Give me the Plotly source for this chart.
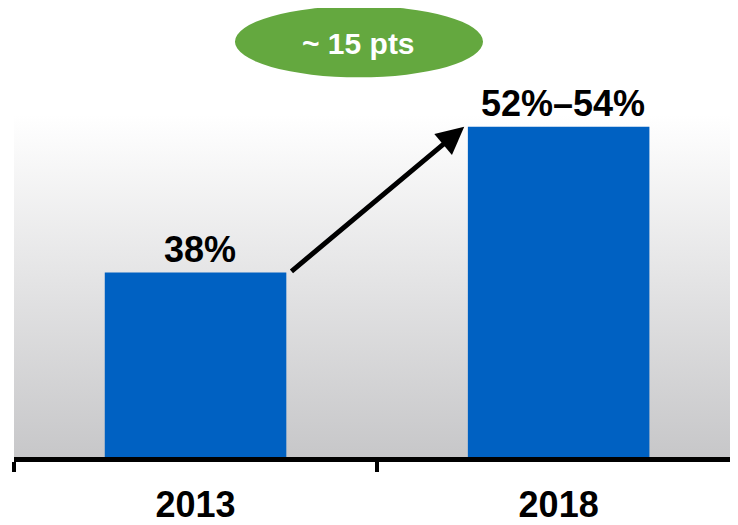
import plotly.graph_objects as go

categories = ["2013", "2018"]
values = [38, 53]
value_labels = ["38%", "52%–54%"]
change_label = "~ 15 pts"

FONT = "Liberation Sans, Arial, sans-serif"
BLUE = "#0061C2"
GREEN = "#64A83F"

fig = go.Figure()

# background gradient (base axes, unit square)
fig.add_trace(go.Scatter(
    x=[0, 1, 1, 0, 0], y=[0, 0, 1, 1, 0], fill="toself", mode="none",
    fillgradient=dict(type="vertical", colorscale=[[0, "#c7c7c9"], [1, "#ffffff"]]),
    hoverinfo="skip", showlegend=False, xaxis="x", yaxis="y"))

fig.add_trace(go.Bar(
    x=categories, y=values, marker_color=BLUE, marker_line_width=0,
    width=0.5, showlegend=False, xaxis="x2", yaxis="y2", hoverinfo="skip"))

annotations = []
for i, (v, t) in enumerate(zip(values, value_labels)):
    annotations.append(dict(x=i, y=v, xref="x2", yref="y2", text=t, showarrow=False,
                            yanchor="bottom", yshift=1, xshift=4,
                            font=dict(family=FONT, size=36, color="black", weight="bold")))

# arrow from first bar top to second bar top
annotations.append(dict(x=0.74, y=values[1], xref="x2", yref="y2",
                        ax=0.26, ay=values[0], axref="x2", ayref="y2",
                        text="", showarrow=True, arrowhead=2, arrowsize=1.1,
                        arrowwidth=5, arrowcolor="black"))

annotations.append(dict(x=0.4765, y=1.2087, xref="paper", yref="paper", text=change_label,
                        showarrow=False, xanchor="center", yanchor="middle",
                        font=dict(family=FONT, size=30, color="white", weight="bold")))

fig.update_layout(
    width=730, height=517,
    margin=dict(l=6, r=0, t=107, b=65),
    paper_bgcolor="white", plot_bgcolor="rgba(0,0,0,0)",
    xaxis=dict(range=[0, 1], visible=False, fixedrange=True),
    yaxis=dict(range=[0, 1], visible=False, fixedrange=True),
    xaxis2=dict(overlaying="x", anchor="y2", type="category", range=[-0.5, 1.494],
                showline=True, linewidth=5, linecolor="black",
                ticks="outside", tickson="boundaries", ticklen=10, tickwidth=4,
                tickcolor="black", showgrid=False, zeroline=False,
                ticklabelstandoff=12,
                tickfont=dict(family=FONT, size=36, color="black", weight="bold")),
    yaxis2=dict(overlaying="y", anchor="x2", range=[19.02, 54.22], visible=False),
    shapes=[dict(type="circle", xref="paper", yref="paper",
                 x0=0.3052, x1=0.6478, y0=1.1101, y1=1.3188,
                 fillcolor=GREEN, line=dict(width=0), layer="above")],
    annotations=annotations,
    bargap=0.5,
)

fig.write_html("out.html")
